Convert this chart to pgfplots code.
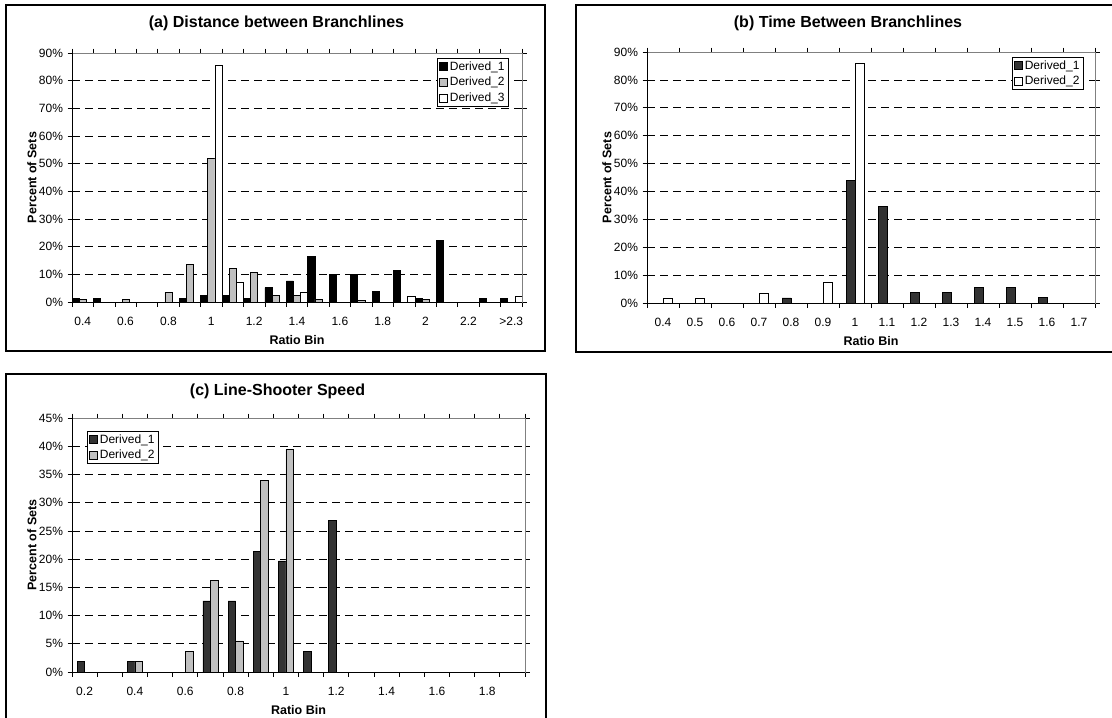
\documentclass[border=0pt]{standalone}
\usepackage{pgfplots}
\pgfplotsset{compat=1.18}
\usepackage{fontspec}
\setmainfont{Liberation Sans}
\definecolor{dgray}{HTML}{333333}
\definecolor{lgray}{HTML}{C0C0C0}
\definecolor{bgray}{HTML}{808080}

\pgfplotsset{
  excel/.style={
    scale only axis,
    anchor=south west,
    ybar,
    ymin=0,
    tick align=outside,
    major tick length=4.5pt,
    ymajorgrids,
    major grid style={black, dash pattern=on 8pt off 5pt, line width=0.7pt},
    axis line style={draw=bgray, line width=0.7pt},
    every tick/.style={black, line width=0.7pt},
    xticklabels={},
    extra x tick style={major tick length=0pt, tick label style={anchor=base, yshift=-23pt}},
    tick label style={font=\fontsize{12}{13}\selectfont},
    yticklabel style={xshift=-1pt},
    label style={font=\bfseries\fontsize{12.5}{14}\selectfont},
    xlabel style={at={(axis description cs:0.5,0)}, anchor=base, yshift=-42pt},
    title style={font=\bfseries\fontsize{16}{18}\selectfont, at={(axis description cs:0.5,1)}, anchor=base},
    /pgf/number format/assume math mode=true,
    legend style={draw=black, line width=0.7pt, fill=white, font=\fontsize{12}{14}\selectfont,
      inner xsep=1.5pt, inner ysep=2pt, row sep=3.5pt, legend cell align=left,
      nodes={inner xsep=2.5pt, inner ysep=1pt}},
    legend image code/.code={\draw[#1, line width=0.6pt] (0pt,-4pt) rectangle (8pt,4pt);},
    every axis plot/.append style={draw=black, line width=0.6pt},
  }
}

\begin{document}
\begin{tikzpicture}
\path[use as bounding box] (0pt,0pt) rectangle (1112pt,-718pt);

% frames
\draw[line width=1.2pt] (6pt,-5pt) rectangle (545pt,-351pt);
\draw[line width=1.2pt] (576pt,-5pt) rectangle (1125pt,-352pt);
\draw[line width=1.2pt] (6pt,-374pt) rectangle (546pt,-725pt);

% ---------------- (a) ----------------
\begin{axis}[excel,
  at={(72pt,-302pt)}, width=450pt, height=249pt,
  xmin=-0.5, xmax=20.5, ymax=90,
  xtick={-0.5,0.5,...,20.5},
  extra x ticks={0,2,...,20},
  extra x tick labels={0.4,0.6,0.8,1,1.2,1.4,1.6,1.8,2,2.2,>2.3},
  ytick={0,10,...,90},
  yticklabels={0\%,10\%,20\%,30\%,40\%,50\%,60\%,70\%,80\%,90\%},
  bar width=0.3333,
  title={(a) Distance between Branchlines},
  title style={yshift=20pt, xshift=-20.5pt},
  xlabel={Ratio Bin}, ylabel={Percent of Sets},
  ylabel style={at={(axis description cs:-0.089,0.5)}, anchor=center},
  legend style={at={(0.971,0.98)}, anchor=north east},
]
\addplot[fill=black, bar shift=-0.3333] coordinates {
 (0,1.2) (1,1.2) (5,1.2) (6,2.4) (7,2.4) (8,1.2) (9,5.2) (10,7.6) (11,16.4)
 (12,10) (13,10) (14,3.9) (15,11.3) (16,1.2) (17,22.4) (19,1.2) (20,1.2)};
\addplot[fill=lgray, bar shift=0] coordinates {
 (0,0.8) (2,0.8) (4,3.6) (5,13.6) (6,51.9) (7,12.2) (8,10.8) (9,2.4)
 (10,2.4) (11,1.0) (13,0.5) (16,0.8)};
\addplot[fill=white, bar shift=0.3333] coordinates {
 (6,85.4) (7,7.2) (10,3.6) (15,2.0) (20,2.0)};
\legend{Derived\_1,Derived\_2,Derived\_3}
\draw[black, line width=0.7pt] (rel axis cs:0,1) -- (rel axis cs:0,0) -- (rel axis cs:1,0);
\end{axis}

% ---------------- (b) ----------------
\begin{axis}[excel,
  at={(647pt,-303pt)}, width=448pt, height=251pt,
  xmin=-0.5, xmax=13.5, ymax=90,
  xtick={-0.5,0.5,...,13.5},
  extra x ticks={0,1,...,13},
  extra x tick labels={0.4,0.5,0.6,0.7,0.8,0.9,1,1.1,1.2,1.3,1.4,1.5,1.6,1.7},
  ytick={0,10,...,90},
  yticklabels={0\%,10\%,20\%,30\%,40\%,50\%,60\%,70\%,80\%,90\%},
  bar width=0.28,
  title={(b) Time Between Branchlines},
  title style={yshift=19pt, xshift=-23pt},
  xlabel={Ratio Bin}, ylabel={Percent of Sets},
  ylabel style={at={(axis description cs:-0.0893,0.5)}, anchor=center},
  legend style={at={(0.975,0.98)}, anchor=north east},
]
\addplot[fill=dgray, bar shift=-0.14] coordinates {
 (4,1.8) (6,43.9) (7,34.6) (8,3.7) (9,3.7) (10,5.6) (11,5.6) (12,1.9)};
\addplot[fill=white, bar shift=0.14] coordinates {
 (0,1.8) (1,1.8) (3,3.6) (5,7.3) (6,85.9)};
\legend{Derived\_1,Derived\_2}
\draw[black, line width=0.7pt] (rel axis cs:0,1) -- (rel axis cs:0,0) -- (rel axis cs:1,0);
\end{axis}

% ---------------- (c) ----------------
\begin{axis}[excel,
  at={(72pt,-672pt)}, width=453pt, height=254pt,
  xmin=-0.5, xmax=17.5, ymax=45,
  xtick={-0.5,0.5,...,17.5},
  extra x ticks={0,2,...,16},
  extra x tick labels={0.2,0.4,0.6,0.8,1,1.2,1.4,1.6,1.8},
  ytick={0,5,...,45},
  yticklabels={0\%,5\%,10\%,15\%,20\%,25\%,30\%,35\%,40\%,45\%},
  bar width=0.30,
  title={(c) Line-Shooter Speed},
  title style={yshift=17pt, xshift=-21pt},
  xlabel={Ratio Bin}, ylabel={Percent of Sets},
  ylabel style={at={(axis description cs:-0.0883,0.5)}, anchor=center},
  legend style={at={(0.033,0.949)}, anchor=north west},
]
\addplot[fill=dgray, bar shift=-0.15] coordinates {
 (0,1.9) (2,1.9) (5,12.6) (6,12.6) (7,21.4) (8,19.7) (9,3.7) (10,26.8)};
\addplot[fill=lgray, bar shift=0.15] coordinates {
 (2,1.9) (4,3.7) (5,16.2) (6,5.5) (7,33.9) (8,39.4)};
\legend{Derived\_1,Derived\_2}
\draw[black, line width=0.7pt] (rel axis cs:0,1) -- (rel axis cs:0,0) -- (rel axis cs:1,0);
\end{axis}
\end{tikzpicture}
\end{document}
